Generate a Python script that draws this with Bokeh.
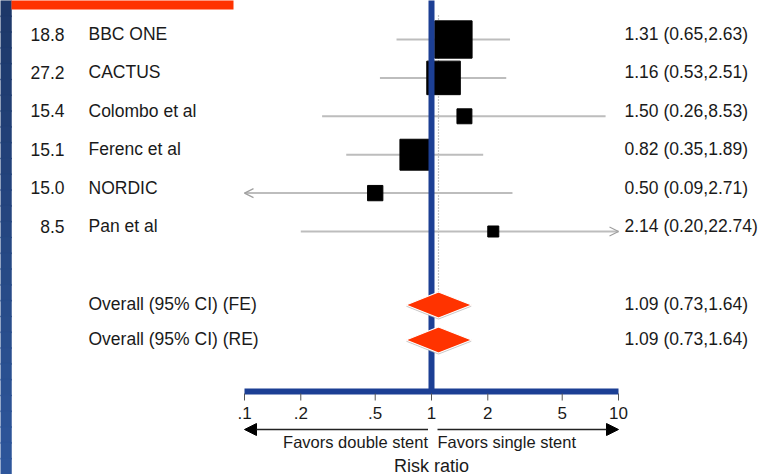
import math
from bokeh.plotting import figure
from bokeh.models import Range1d, Arrow, OpenHead, NormalHead
from bokeh.core.properties import value
from bokeh.embed import file_html
from bokeh.resources import INLINE

# ---------------- data ----------------
studies = ["BBC ONE", "CACTUS", "Colombo et al", "Ferenc et al", "NORDIC", "Pan et al"]
weights = ["18.8", "27.2", "15.4", "15.1", "15.0", "8.5"]
rr = [1.31, 1.16, 1.50, 0.82, 0.50, 2.14]
lcl = [0.65, 0.53, 0.26, 0.35, 0.09, 0.20]
ucl = [2.63, 2.51, 8.53, 1.89, 2.71, 22.74]

overall_labels = ["Overall (95% CI) (FE)", "Overall (95% CI) (RE)"]
overall_rr = [1.09, 1.09]
overall_lcl = [0.73, 0.73]
overall_ucl = [1.64, 1.64]

tick_values = [0.1, 0.2, 0.5, 1, 2, 5, 10]
tick_labels = [".1", ".2", ".5", "1", "2", "5", "10"]
x_title = "Risk ratio"
favors_left = "Favors double stent"
favors_right = "Favors single stent"

# ---------------- layout ----------------
W, H = 767, 474
X1 = 431.0      # pixel of RR = 1
DEC = 187.0     # pixels per decade
XMIN, XMAX = tick_values[0], tick_values[-1]


def X(px):
    return 10 ** ((px - X1) / DEC)


ROW0, STEP = 39.0, 38.4
TXT_DY = -5.5
study_y = [ROW0 + STEP * i for i in range(len(studies))]
OV0, OV_STEP = 304.5, 35.0
overall_y = [OV0 + OV_STEP * i for i in range(len(overall_labels))]
AXIS_Y = 391.0

FONT = value("Liberation Sans")
TXT = "#1a1a1a"
BLUE = "#1c3f94"
ORANGE = "#ff3300"
CI_COL = "#bdbdbd"

p = figure(width=W, height=H, x_axis_type="log",
           x_range=Range1d(X(0), X(W)), y_range=Range1d(H, 0),
           x_axis_location=None, y_axis_location=None,
           toolbar_location=None, output_backend="svg", min_border=0)
p.grid.visible = False
p.outline_line_color = None
p.background_fill_color = "white"
p.border_fill_color = "white"

# left gradient strip
n = 30
c0 = (0x1d, 0x38, 0x69)
c1 = (0x2e, 0x56, 0x9b)
tops, bots, cols = [], [], []
for i in range(n):
    t = i / (n - 1)
    c = tuple(int(round(a + (b - a) * t)) for a, b in zip(c0, c1))
    cols.append("#%02x%02x%02x" % c)
    tops.append(H * i / n - 0.5)
    bots.append(H * (i + 1) / n + 0.5)
p.quad(left=X(-20), right=X(11), top=tops, bottom=bots, fill_color=cols, line_color=cols,
       line_width=0.5)
# orange title bar
p.quad(left=X(11), right=X(233), top=-5, bottom=9, fill_color=ORANGE, line_color=None)

# dotted line at overall estimate
p.segment(x0=[overall_rr[0]], y0=[15], x1=[overall_rr[0]], y1=[overall_y[0] - 13],
          line_color="#8a8a8a", line_width=1.2, line_dash="1 2")

# CI lines
ci_lo = [max(l, XMIN) for l in lcl]
ci_hi = [min(u, XMAX) for u in ucl]
p.segment(x0=ci_lo, y0=study_y, x1=ci_hi, y1=study_y, line_color=CI_COL, line_width=2)
for r, l, u, y in zip(rr, lcl, ucl, study_y):
    if l < XMIN:
        p.add_layout(Arrow(end=OpenHead(size=9, line_color="#a0a0a0", line_width=1.2),
                           x_start=r, y_start=y, x_end=XMIN, y_end=y,
                           line_color=CI_COL, line_width=0))
    if u > XMAX:
        p.add_layout(Arrow(end=OpenHead(size=9, line_color="#a0a0a0", line_width=1.2),
                           x_start=r, y_start=y, x_end=XMAX, y_end=y,
                           line_color=CI_COL, line_width=0))

# boxes: area proportional to inverse-variance weight
se = [(math.log(u) - math.log(l)) / (2 * 1.959964) for l, u in zip(lcl, ucl)]
box_size = [13.3 / s for s in se]
p.scatter(x=rr, y=study_y, size=box_size, marker="square",
          fill_color="black", line_color="black")

# blue reference line at 1
p.segment(x0=[1], y0=[-5], x1=[1], y1=[AXIS_Y], line_color=BLUE, line_width=6)

# diamonds
HH = 13
xs = [[l, r, u, r] for r, l, u in zip(overall_rr, overall_lcl, overall_ucl)]
ys = [[y, y - HH, y, y + HH] for y in overall_y]
ys_sh = [[y + 1.5, y - HH + 1.5, y + 1.5, y + HH + 1.5] for y in overall_y]
p.patches(xs=xs, ys=ys_sh, fill_color="#b5b5b5", line_color=None, fill_alpha=0.8)
p.patches(xs=xs, ys=ys, fill_color=ORANGE, line_color="white", line_width=1.2)

# axis
p.segment(x0=[XMIN], y0=[AXIS_Y], x1=[XMAX], y1=[AXIS_Y], line_color=BLUE, line_width=6)
p.segment(x0=tick_values, y0=[AXIS_Y + 2] * len(tick_values), x1=tick_values,
          y1=[AXIS_Y + 9] * len(tick_values), line_color="#555555", line_width=1)
p.text(x=tick_values, y=[AXIS_Y + 21] * len(tick_values), text=tick_labels,
       text_font=FONT, text_font_size="17px", text_color=TXT,
       text_align="center", text_baseline="middle")

gap_l = 10 ** (3.5 / DEC)
gap_r = 10 ** (6.0 / DEC)
ARR_Y = 429
p.add_layout(Arrow(end=NormalHead(size=12, fill_color="black", line_color="black"),
                   x_start=1 / gap_l, y_start=ARR_Y, x_end=XMIN, y_end=ARR_Y,
                   line_color="#222222", line_width=1.5))
p.add_layout(Arrow(end=NormalHead(size=12, fill_color="black", line_color="black"),
                   x_start=gap_r, y_start=ARR_Y, x_end=XMAX, y_end=ARR_Y,
                   line_color="#222222", line_width=1.5))
p.text(x=[1 / gap_l], y=[ARR_Y + 12], text=[favors_left], text_font=FONT,
       text_font_size="16.5px", text_color=TXT, text_align="right", text_baseline="middle")
p.text(x=[gap_r], y=[ARR_Y + 12], text=[favors_right], text_font=FONT,
       text_font_size="16.5px", text_color=TXT, text_align="left", text_baseline="middle")
p.text(x=[1], y=[465], text=[x_title], text_font=FONT, text_font_size="18px",
       text_color=TXT, text_align="center", text_baseline="middle")

# left / right text columns
ty = [y + TXT_DY for y in study_y]
p.text(x=[X(64)] * len(weights), y=ty, text=weights, text_font=FONT,
       text_font_size="17.5px", text_color=TXT, text_align="right", text_baseline="middle")
p.text(x=[X(88)] * len(studies), y=ty, text=studies, text_font=FONT,
       text_font_size="17.5px", text_color=TXT, text_align="left", text_baseline="middle")
est_txt = ["%.2f (%.2f,%.2f)" % (r, l, u) for r, l, u in zip(rr, lcl, ucl)]
p.text(x=[X(624)] * len(est_txt), y=ty, text=est_txt, text_font=FONT,
       text_font_size="17.5px", text_color=TXT, text_align="left", text_baseline="middle")

oty = [y - 1.5 for y in overall_y]
p.text(x=[X(88)] * len(overall_labels), y=oty, text=overall_labels, text_font=FONT,
       text_font_size="17.5px", text_color=TXT, text_align="left", text_baseline="middle")
ov_txt = ["%.2f (%.2f,%.2f)" % (r, l, u) for r, l, u in zip(overall_rr, overall_lcl, overall_ucl)]
p.text(x=[X(624)] * len(ov_txt), y=oty, text=ov_txt, text_font=FONT,
       text_font_size="17.5px", text_color=TXT, text_align="left", text_baseline="middle")

open("out.html", "w").write(file_html(p, INLINE))
